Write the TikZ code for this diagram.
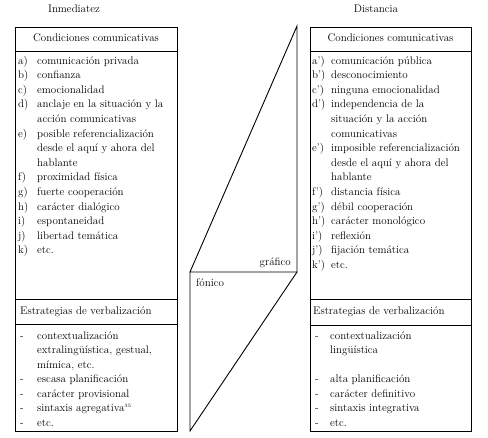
\documentclass[tikz,border=0pt]{standalone}
\usepackage{fontspec}
\newcommand\lab[1]{\makebox[19pt][l]{#1}}
\newcommand\dl{\makebox[17pt][l]{-}}
\newcommand\nl{\makebox[17pt][l]{}}
\newcommand\dr{\makebox[15pt][l]{-}}
\newcommand\nr{\makebox[15pt][l]{}}
\begin{document}
\begin{tikzpicture}[x=1pt,y=-1pt,
  frame/.style={line width=0.9pt},
  txt/.style={anchor=mid west,inner sep=0pt,font=\fontsize{11}{13}\selectfont},
  ctr/.style={anchor=mid,inner sep=0pt,font=\fontsize{11}{13}\selectfont}]
\useasboundingbox (0,0) rectangle (488,438);
% boxes
\draw[frame] (15,27) rectangle (177,431);
\draw[frame] (15,51) -- (177,51);
\draw[frame] (15,299) -- (177,299);
\draw[frame] (15,324) -- (177,324);
\draw[frame] (310,27) rectangle (471,431);
\draw[frame] (310,51) -- (471,51);
\draw[frame] (310,299) -- (471,299);
\draw[frame] (310,325) -- (471,325);
% middle shape
\draw[frame,line join=miter] (297,26) -- (297,272) -- (190,272) -- cycle;
\draw[frame] (190,272) -- (190,431) -- (297,272);
% titles
\node[ctr] (ti1) at (74,10) {Inmediatez};
\node[ctr] (ti2) at (376,10) {Distancia};
\node[ctr] (h1) at (96,39) {Condiciones comunicativas};
\node[ctr] (h2) at (390.5,39) {Condiciones comunicativas};
\node[txt] (s1) at (20,312.5) {Estrategias de verbalización};
\node[txt] (s2) at (313,312.5) {Estrategias de verbalización};
\node[txt,anchor=mid east] (gr) at (291,263) {gráfico};
\node[txt] (fo) at (196,284.5) {fónico};
% left conditions
\foreach \t [count=\i] in {
 {\lab{a)}comunicación privada},
 {\lab{b)}confianza},
 {\lab{c)}emocionalidad},
 {\lab{d)}anclaje en la situación y la},
 {\lab{}acción comunicativas},
 {\lab{e)}posible referencialización},
 {\lab{}desde el aquí y ahora del},
 {\lab{}hablante},
 {\lab{f)}proximidad física},
 {\lab{g)}fuerte cooperación},
 {\lab{h)}carácter dialógico},
 {\lab{i)}espontaneidad},
 {\lab{j)}libertad temática},
 {\lab{k)}etc.}}
 \node[txt] (L\i) at (18,{62+(\i-1)*14.6}) {\t};
% right conditions
\foreach \t [count=\i] in {
 {\lab{a')}comunicación pública},
 {\lab{b')}desconocimiento},
 {\lab{c')}ninguna emocionalidad},
 {\lab{d')}independencia de la},
 {\lab{}situación y la acción},
 {\lab{}comunicativas},
 {\lab{e')}imposible referencialización},
 {\lab{}desde el aquí y ahora del},
 {\lab{}hablante},
 {\lab{f')}distancia física},
 {\lab{g')}débil cooperación},
 {\lab{h')}carácter monológico},
 {\lab{i')}reflexión},
 {\lab{j')}fijación temática},
 {\lab{k')}etc.}}
 \node[txt] (R\i) at (312,{62+(\i-1)*14.6}) {\t};
% left strategies
\foreach \t [count=\i] in {
 {\dl contextualización},
 {\nl extralingüística, gestual,},
 {\nl mímica, etc.},
 {\dl escasa planificación},
 {\dl carácter provisional},
 {\dl sintaxis agregativa\textsuperscript{\tiny 35}},
 {\dl etc.}}
 \node[txt] (LS\i) at (20,{337+(\i-1)*14.5}) {\t};
% right strategies
\node[txt] (RS1) at (315,337) {\dr contextualización};
\node[txt] (RS2) at (315,351.5) {\nr lingüística};
\node[txt] (RS3) at (315,380.5) {\dr alta planificación};
\node[txt] (RS4) at (315,395) {\dr carácter definitivo};
\node[txt] (RS5) at (315,409.5) {\dr sintaxis integrativa};
\node[txt] (RS6) at (315,424) {\dr etc.};
\end{tikzpicture}
\end{document}
